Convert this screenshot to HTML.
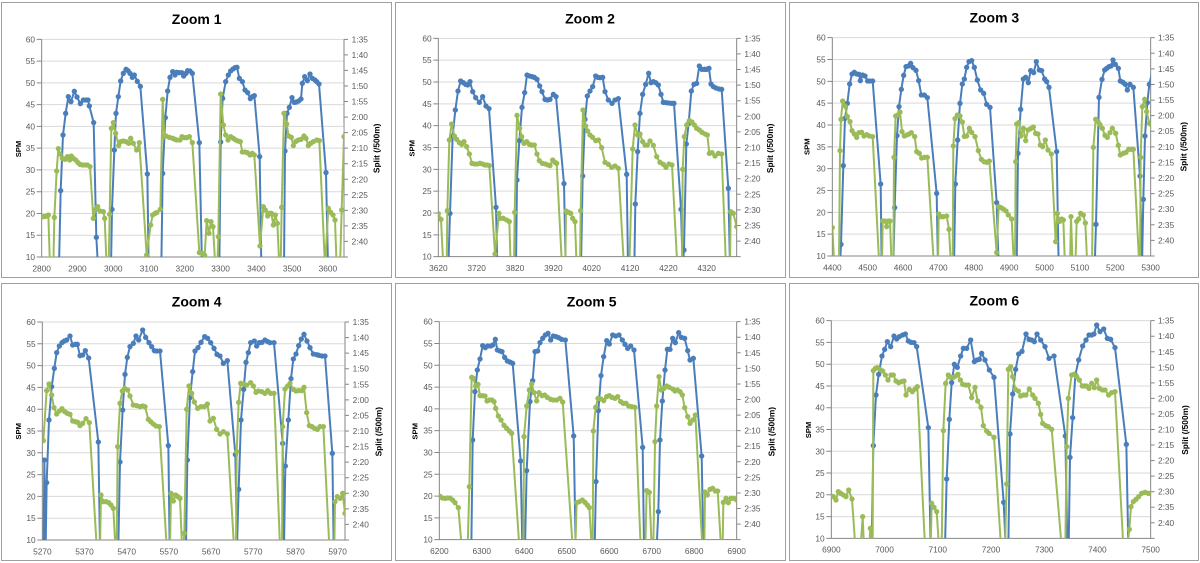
<!DOCTYPE html>
<html><head><meta charset="utf-8"><style>
html,body{margin:0;padding:0;background:#fff;}
svg{display:block;}
.g{stroke:#d9d9d9;stroke-width:3;fill:none}
.ax{stroke:#868686;stroke-width:3;fill:none}
.t{font-family:"Liberation Sans",sans-serif;font-size:25px;fill:#595959}
.l{text-anchor:end}
.c{text-anchor:middle}
.ti{font-family:"Liberation Sans",sans-serif;font-size:42px;font-weight:bold;fill:#000;text-anchor:middle}
.at{font-family:"Liberation Sans",sans-serif;font-size:23px;font-weight:bold;fill:#000;text-anchor:middle}
.as{font-family:"Liberation Sans",sans-serif;font-size:25px;font-weight:bold;fill:#000;text-anchor:middle}
.bl{fill:none;stroke:#4a7ebb;stroke-width:6;stroke-linejoin:round;marker-start:url(#mb);marker-mid:url(#mb);marker-end:url(#mb)}
.gr{fill:none;stroke:#9bbb59;stroke-width:6;stroke-linejoin:round;marker-start:url(#mg);marker-mid:url(#mg);marker-end:url(#mg)}
.bd{fill:#fff;stroke:#a0a0a0;stroke-width:1}
</style></head><body>
<svg width="1200" height="563" viewBox="0 0 1200 563" xmlns="http://www.w3.org/2000/svg">
<defs>
<marker id="mb" markerUnits="userSpaceOnUse" markerWidth="20" markerHeight="20" refX="10" refY="10" viewBox="0 0 20 20"><circle cx="10" cy="10" r="8" fill="#4a7ebb"/></marker>
<marker id="mg" markerUnits="userSpaceOnUse" markerWidth="20" markerHeight="20" refX="10" refY="10" viewBox="0 0 20 20"><circle cx="10" cy="10" r="8" fill="#9bbb59"/></marker>
<clipPath id="c1"><rect x="125" y="90" width="907" height="681"/></clipPath>
<clipPath id="c2"><rect x="145" y="90" width="895" height="680"/></clipPath>
<clipPath id="c3"><rect x="127" y="90" width="955" height="678"/></clipPath>
<clipPath id="c4"><rect x="127" y="100" width="908" height="680"/></clipPath>
<clipPath id="c5"><rect x="148" y="100" width="892" height="679"/></clipPath>
<clipPath id="c6"><rect x="124" y="100" width="958" height="675"/></clipPath>
</defs>
<rect x="0" y="0" width="1200" height="563" fill="#fff"/>
<rect class="bd" x="1.5" y="2.5" width="390" height="275"/>
<rect class="bd" x="395.5" y="2.5" width="390" height="275"/>
<rect class="bd" x="789.5" y="2.5" width="409" height="275"/>
<rect class="bd" x="1.5" y="283.5" width="390" height="277"/>
<rect class="bd" x="395.5" y="283.5" width="390" height="277"/>
<rect class="bd" x="789.5" y="283.5" width="409" height="277"/>

<!-- PANEL 1 -->
<g transform="translate(0,0) scale(0.333333)">
<path class="g" d="M125 118H1032M125 183.3H1032M125 248.6H1032M125 313.9H1032M125 379.2H1032M125 444.5H1032M125 509.8H1032M125 575.1H1032M125 640.4H1032M125 705.7H1032"/>
<path class="ax" d="M125 118V771H1032V118M110 118h15M110 183.3h15M110 248.6h15M110 313.9h15M110 379.2h15M110 444.5h15M110 509.8h15M110 575.1h15M110 640.4h15M110 705.7h15M110 771h15M1032 118h12M1032 164.6h12M1032 211.3h12M1032 257.9h12M1032 304.6h12M1032 351.2h12M1032 397.9h12M1032 444.5h12M1032 491.1h12M1032 537.8h12M1032 584.4h12M1032 631.1h12M1032 677.7h12M1032 724.3h12M1032 771h12"/>
<text class="ti" x="590" y="72">Zoom 1</text>
<text class="at" transform="translate(63,447) rotate(-90)">SPM</text>
<text class="as" transform="translate(1139,445) rotate(-90)">Split (/500m)</text>
<text class="t l"><tspan x="105" y="127">60</tspan><tspan x="105" y="192.3">55</tspan><tspan x="105" y="257.6">50</tspan><tspan x="105" y="322.9">45</tspan><tspan x="105" y="388.2">40</tspan><tspan x="105" y="453.5">35</tspan><tspan x="105" y="518.8">30</tspan><tspan x="105" y="584.1">25</tspan><tspan x="105" y="649.4">20</tspan><tspan x="105" y="714.7">15</tspan><tspan x="105" y="780">10</tspan></text>
<text class="t"><tspan x="1055" y="127">1:35</tspan><tspan x="1055" y="173.6">1:40</tspan><tspan x="1055" y="220.3">1:45</tspan><tspan x="1055" y="266.9">1:50</tspan><tspan x="1055" y="313.6">1:55</tspan><tspan x="1055" y="360.2">2:00</tspan><tspan x="1055" y="406.9">2:05</tspan><tspan x="1055" y="453.5">2:10</tspan><tspan x="1055" y="500.1">2:15</tspan><tspan x="1055" y="546.8">2:20</tspan><tspan x="1055" y="593.4">2:25</tspan><tspan x="1055" y="640.1">2:30</tspan><tspan x="1055" y="686.7">2:35</tspan><tspan x="1055" y="733.3">2:40</tspan></text>
<text class="t c"><tspan x="125" y="814">2800</tspan><tspan x="232.3" y="814">2900</tspan><tspan x="339.7" y="814">3000</tspan><tspan x="447" y="814">3100</tspan><tspan x="554.4" y="814">3200</tspan><tspan x="661.7" y="814">3300</tspan><tspan x="769" y="814">3400</tspan><tspan x="876.4" y="814">3500</tspan><tspan x="983.7" y="814">3600</tspan></text>
<g clip-path="url(#c1)">
<polyline class="bl" points="177,800 182,572 189,405 197,340 205,290 213,305 223,274 231,291 241,311 250,300 258,300 264,300 268,318 281,368 289,712 294,800 333,800 336,628 343,450 348,340 355,290 362,243 370,220 378,208 384,212 390,220 397,232 403,225 412,244 421,259 442,522 446,800 484,800 488,520 496,353 503,273 510,232 518,215 525,225 530,217 537,218 545,218 551,228 558,220 563,212 570,213 577,220 598,428 606,800 658,800 662,426 668,295 677,245 685,225 692,213 699,207 705,203 711,202 718,235 727,245 735,270 743,278 751,296 757,290 763,287 779,470 784,800 852,800 855,453 861,340 868,322 876,293 883,307 889,306 896,303 903,297 907,250 914,230 922,242 930,222 937,235 945,240 950,245 957,252 978,518 984,800"/>
<polyline class="gr" points="130,650 137,649 145,645 150,800 160,800 163,652 170,513 175,446 180,462 187,475 195,478 202,470 209,480 214,468 220,475 227,480 234,488 240,493 247,495 255,495 262,495 270,500 280,655 287,628 293,620 300,633 310,635 314,655 320,800 326,800 329,643 334,385 340,368 347,400 356,437 362,425 370,423 378,425 386,430 392,415 400,430 410,450 418,428 440,765 452,675 458,645 465,640 470,638 481,628 488,298 493,410 498,408 508,412 518,415 525,418 530,420 540,420 546,410 553,413 560,413 568,410 577,428 598,758 606,760 614,766 620,662 627,700 633,665 639,680 646,800 652,800 655,710 662,282 670,375 677,405 684,420 692,410 700,415 707,420 714,423 721,425 727,456 735,456 742,458 750,465 757,460 763,465 780,738 790,620 796,630 803,648 808,640 814,640 820,675 826,645 832,670 838,800 842,800 845,622 852,340 860,372 866,408 874,412 880,437 888,424 895,420 903,418 912,408 918,415 925,437 932,430 940,425 950,420 958,422 975,800 985,625 992,637 999,645 1005,660 1010,800 1020,800 1025,630 1032,410 1040,300"/>
</g>
</g>

<!-- PANEL 2 -->
<g transform="translate(390,0) scale(0.333333)">
<path class="g" d="M145 115H1040M145 180.5H1040M145 246H1040M145 311.5H1040M145 377H1040M145 442.5H1040M145 508H1040M145 573.5H1040M145 639H1040M145 704.5H1040"/>
<path class="ax" d="M145 115V770H1040V115M130 115h15M130 180.5h15M130 246h15M130 311.5h15M130 377h15M130 442.5h15M130 508h15M130 573.5h15M130 639h15M130 704.5h15M130 770h15M1040 115h12M1040 161.8h12M1040 208.6h12M1040 255.4h12M1040 302.2h12M1040 348.9h12M1040 395.7h12M1040 442.5h12M1040 489.3h12M1040 536.1h12M1040 582.9h12M1040 629.7h12M1040 676.4h12M1040 723.2h12M1040 770h12"/>
<text class="ti" x="600" y="70">Zoom 2</text>
<text class="at" transform="translate(73,445) rotate(-90)">SPM</text>
<text class="as" transform="translate(1149,445) rotate(-90)">Split (/500m)</text>
<text class="t l"><tspan x="125" y="124">60</tspan><tspan x="125" y="189.5">55</tspan><tspan x="125" y="255">50</tspan><tspan x="125" y="320.5">45</tspan><tspan x="125" y="386">40</tspan><tspan x="125" y="451.5">35</tspan><tspan x="125" y="517">30</tspan><tspan x="125" y="582.5">25</tspan><tspan x="125" y="648">20</tspan><tspan x="125" y="713.5">15</tspan><tspan x="125" y="779">10</tspan></text>
<text class="t"><tspan x="1063" y="124">1:35</tspan><tspan x="1063" y="170.8">1:40</tspan><tspan x="1063" y="217.6">1:45</tspan><tspan x="1063" y="264.4">1:50</tspan><tspan x="1063" y="311.2">1:55</tspan><tspan x="1063" y="357.9">2:00</tspan><tspan x="1063" y="404.7">2:05</tspan><tspan x="1063" y="451.5">2:10</tspan><tspan x="1063" y="498.3">2:15</tspan><tspan x="1063" y="545.1">2:20</tspan><tspan x="1063" y="591.9">2:25</tspan><tspan x="1063" y="638.7">2:30</tspan><tspan x="1063" y="685.4">2:35</tspan><tspan x="1063" y="732.2">2:40</tspan></text>
<text class="t c"><tspan x="145" y="813">3620</tspan><tspan x="260" y="813">3720</tspan><tspan x="375" y="813">3820</tspan><tspan x="490" y="813">3920</tspan><tspan x="605" y="813">4020</tspan><tspan x="720" y="813">4120</tspan><tspan x="835" y="813">4220</tspan><tspan x="950" y="813">4320</tspan></text>
<g clip-path="url(#c2)">
<polyline class="bl" points="175,800 180,640 188,408 196,330 204,273 212,243 220,248 227,253 233,255 240,245 248,275 257,293 268,307 278,290 288,318 297,326 318,622 322,800 378,800 381,540 388,422 396,322 404,278 411,225 419,228 426,230 433,232 441,238 449,258 456,275 465,298 472,300 480,298 490,283 498,290 522,551 527,800 573,800 578,528 585,358 592,288 600,273 608,260 617,228 624,232 630,233 638,232 645,275 655,300 666,310 675,300 685,296 710,523 714,800 733,800 736,612 743,455 750,340 758,283 767,253 776,220 783,248 790,245 797,248 805,255 813,283 820,307 828,308 836,309 845,310 852,310 873,628 878,800 882,750 889,432 896,370 904,273 912,253 920,250 928,198 936,208 944,208 950,208 957,205 963,252 970,260 978,264 987,267 995,268 1015,565 1020,800"/>
<polyline class="gr" points="145,641 153,658 160,800 170,800 172,632 178,420 185,372 193,408 200,418 208,428 215,433 222,425 230,440 238,462 246,490 254,492 262,492 270,490 278,492 285,495 292,495 298,497 315,762 327,640 330,655 340,655 350,660 358,665 362,800 372,800 374,637 381,346 389,385 395,410 402,430 410,425 418,433 425,435 433,435 441,462 448,482 457,490 466,492 474,495 480,497 488,480 495,487 500,490 516,800 526,800 528,633 535,637 542,640 548,655 555,665 560,800 570,800 572,632 579,330 587,378 593,393 600,405 608,412 617,422 625,420 635,443 645,487 655,493 665,502 675,498 685,505 702,800 718,800 728,447 735,375 743,405 750,402 758,425 765,435 772,435 780,423 790,436 800,470 810,487 820,493 828,502 837,492 846,495 862,800 876,800 878,508 883,410 890,375 898,362 906,366 913,375 920,385 928,390 936,397 945,402 952,405 958,460 966,458 975,468 985,460 995,462 1008,800 1020,800 1022,635 1030,640 1040,680"/>
</g>
</g>

<!-- PANEL 3 -->
<g transform="translate(790,0) scale(0.333333)">
<path class="g" d="M127 113H1082M127 178.5H1082M127 244H1082M127 309.5H1082M127 375H1082M127 440.5H1082M127 506H1082M127 571.5H1082M127 637H1082M127 702.5H1082"/>
<path class="ax" d="M127 113V768H1082V113M112 113h15M112 178.5h15M112 244h15M112 309.5h15M112 375h15M112 440.5h15M112 506h15M112 571.5h15M112 637h15M112 702.5h15M112 768h15M1082 113h12M1082 159.8h12M1082 206.6h12M1082 253.4h12M1082 300.2h12M1082 346.9h12M1082 393.7h12M1082 440.5h12M1082 487.3h12M1082 534.1h12M1082 580.9h12M1082 627.7h12M1082 674.4h12M1082 721.2h12M1082 768h12"/>
<text class="ti" x="613" y="67">Zoom 3</text>
<text class="at" transform="translate(58,440) rotate(-90)">SPM</text>
<text class="as" transform="translate(1189,440) rotate(-90)">Split (/500m)</text>
<text class="t l"><tspan x="107" y="122">60</tspan><tspan x="107" y="187.5">55</tspan><tspan x="107" y="253">50</tspan><tspan x="107" y="318.5">45</tspan><tspan x="107" y="384">40</tspan><tspan x="107" y="449.5">35</tspan><tspan x="107" y="515">30</tspan><tspan x="107" y="580.5">25</tspan><tspan x="107" y="646">20</tspan><tspan x="107" y="711.5">15</tspan><tspan x="107" y="777">10</tspan></text>
<text class="t"><tspan x="1104" y="122">1:35</tspan><tspan x="1104" y="168.8">1:40</tspan><tspan x="1104" y="215.6">1:45</tspan><tspan x="1104" y="262.4">1:50</tspan><tspan x="1104" y="309.2">1:55</tspan><tspan x="1104" y="355.9">2:00</tspan><tspan x="1104" y="402.7">2:05</tspan><tspan x="1104" y="449.5">2:10</tspan><tspan x="1104" y="496.3">2:15</tspan><tspan x="1104" y="543.1">2:20</tspan><tspan x="1104" y="589.9">2:25</tspan><tspan x="1104" y="636.7">2:30</tspan><tspan x="1104" y="683.4">2:35</tspan><tspan x="1104" y="730.2">2:40</tspan></text>
<text class="t c"><tspan x="127" y="811">4400</tspan><tspan x="233.1" y="811">4500</tspan><tspan x="339.2" y="811">4600</tspan><tspan x="445.3" y="811">4700</tspan><tspan x="551.4" y="811">4800</tspan><tspan x="657.6" y="811">4900</tspan><tspan x="763.7" y="811">5000</tspan><tspan x="869.8" y="811">5100</tspan><tspan x="975.9" y="811">5200</tspan><tspan x="1082" y="811">5300</tspan></text>
<g clip-path="url(#c3)">
<polyline class="bl" points="150,800 153,733 160,497 165,355 172,310 179,252 186,222 193,217 200,222 207,223 211,242 218,225 225,228 233,243 240,243 248,243 272,552 275,800 310,800 314,623 321,407 327,320 334,268 341,226 348,200 355,198 362,190 369,203 378,211 386,242 394,285 403,285 412,293 440,580 444,800 492,800 496,552 503,420 510,310 517,252 523,237 530,202 537,185 545,182 553,202 562,240 572,270 581,280 590,313 600,322 620,608 626,800 680,800 684,460 692,328 700,237 707,232 715,248 722,212 731,218 739,185 748,210 755,212 764,237 770,245 777,262 800,455 806,800 914,800 918,673 927,292 936,238 944,210 950,205 957,200 963,198 969,180 976,193 985,205 991,243 999,247 1006,253 1012,270 1020,253 1030,262 1050,528 1056,800 1060,598 1065,408 1072,308 1078,253 1090,200"/>
<polyline class="gr" points="127,683 133,800 147,800 150,452 153,358 158,303 165,318 172,350 180,365 186,392 193,402 200,412 207,398 215,397 222,408 230,404 238,408 248,410 268,800 276,800 278,663 285,663 290,680 295,663 300,663 305,800 310,800 312,472 317,348 323,345 330,336 336,395 343,408 350,405 357,402 364,398 374,410 380,455 388,460 395,474 403,472 412,472 432,800 444,800 446,642 453,650 460,650 470,648 477,688 483,800 488,800 490,438 495,356 502,345 510,348 517,366 523,409 530,408 538,385 545,397 555,410 565,452 574,478 582,485 590,487 598,483 620,758 626,620 633,623 640,627 648,633 655,645 665,657 672,800 675,800 677,485 680,372 686,368 693,408 700,385 707,422 714,390 722,386 730,381 737,400 744,402 751,435 758,440 766,420 774,450 784,462 797,725 802,640 809,664 815,657 820,660 825,800 840,800 843,650 848,800 856,800 860,664 866,657 872,640 880,645 886,669 892,800 906,800 910,442 917,358 924,365 930,374 937,385 945,406 952,412 960,398 967,385 977,400 985,436 991,465 1000,460 1008,457 1016,448 1024,448 1030,448 1048,800 1050,800 1052,472 1057,320 1064,298 1070,335 1078,370 1090,400"/>
</g>
</g>

<!-- PANEL 4 -->
<g transform="translate(0,280) scale(0.333333)">
<path class="g" d="M127 126H1035M127 191.4H1035M127 256.8H1035M127 322.2H1035M127 387.6H1035M127 453H1035M127 518.4H1035M127 583.8H1035M127 649.2H1035M127 714.6H1035"/>
<path class="ax" d="M127 126V780H1035V126M112 126h15M112 191.4h15M112 256.8h15M112 322.2h15M112 387.6h15M112 453h15M112 518.4h15M112 583.8h15M112 649.2h15M112 714.6h15M112 780h15M1035 126h12M1035 172.7h12M1035 219.4h12M1035 266.1h12M1035 312.9h12M1035 359.6h12M1035 406.3h12M1035 453h12M1035 499.7h12M1035 546.4h12M1035 593.1h12M1035 639.9h12M1035 686.6h12M1035 733.3h12M1035 780h12"/>
<text class="ti" x="590" y="80">Zoom 4</text>
<text class="at" transform="translate(63,454) rotate(-90)">SPM</text>
<text class="as" transform="translate(1144,455) rotate(-90)">Split (/500m)</text>
<text class="t l"><tspan x="107" y="135">60</tspan><tspan x="107" y="200.4">55</tspan><tspan x="107" y="265.8">50</tspan><tspan x="107" y="331.2">45</tspan><tspan x="107" y="396.6">40</tspan><tspan x="107" y="462">35</tspan><tspan x="107" y="527.4">30</tspan><tspan x="107" y="592.8">25</tspan><tspan x="107" y="658.2">20</tspan><tspan x="107" y="723.6">15</tspan><tspan x="107" y="789">10</tspan></text>
<text class="t"><tspan x="1058" y="135">1:35</tspan><tspan x="1058" y="181.7">1:40</tspan><tspan x="1058" y="228.4">1:45</tspan><tspan x="1058" y="275.1">1:50</tspan><tspan x="1058" y="321.9">1:55</tspan><tspan x="1058" y="368.6">2:00</tspan><tspan x="1058" y="415.3">2:05</tspan><tspan x="1058" y="462">2:10</tspan><tspan x="1058" y="508.7">2:15</tspan><tspan x="1058" y="555.4">2:20</tspan><tspan x="1058" y="602.1">2:25</tspan><tspan x="1058" y="648.9">2:30</tspan><tspan x="1058" y="695.6">2:35</tspan><tspan x="1058" y="742.3">2:40</tspan></text>
<text class="t c"><tspan x="127" y="823">5270</tspan><tspan x="253.6" y="823">5370</tspan><tspan x="380.1" y="823">5470</tspan><tspan x="506.7" y="823">5570</tspan><tspan x="633.3" y="823">5670</tspan><tspan x="759.9" y="823">5770</tspan><tspan x="886.4" y="823">5870</tspan><tspan x="1013" y="823">5970</tspan></text>
<g clip-path="url(#c4)">
<polyline class="bl" points="131,800 133,540 137,800 140,608 147,420 155,320 163,265 170,218 178,198 186,188 193,183 200,180 210,168 218,195 226,193 232,193 240,227 248,225 256,212 266,234 295,486 300,800 355,800 360,546 368,390 375,283 382,232 390,200 400,190 408,168 416,180 428,150 437,172 447,188 455,200 463,212 470,213 480,213 505,497 509,800 558,800 562,540 570,353 578,275 585,213 594,203 603,187 614,170 623,175 632,188 642,205 651,223 660,228 670,250 682,242 706,524 711,800 716,628 723,420 731,328 738,247 745,218 752,188 763,183 770,198 778,188 786,187 795,180 803,185 810,188 822,188 848,490 852,800 856,558 865,420 873,296 880,237 888,222 896,197 904,177 912,163 921,183 930,203 940,222 950,224 957,226 966,228 975,228 997,520 1001,800"/>
<polyline class="gr" points="130,482 140,332 147,312 155,345 162,383 170,402 178,393 186,386 194,395 202,400 210,403 218,423 226,425 233,427 240,437 248,430 258,416 268,428 290,800 300,800 303,645 310,665 318,665 326,668 333,675 340,685 346,800 350,800 353,500 360,370 367,333 374,325 383,330 390,348 400,375 410,377 420,380 428,378 435,380 445,418 452,425 460,432 468,438 478,440 500,800 510,800 513,640 520,663 527,645 534,650 540,655 546,800 550,800 553,760 560,388 567,318 575,340 583,366 593,385 603,380 613,380 622,372 630,423 640,415 650,448 660,462 670,455 682,462 702,800 708,800 710,515 716,367 722,310 730,312 740,315 752,308 760,318 768,337 775,333 785,335 795,340 803,332 812,340 822,340 840,800 846,800 848,440 855,327 863,318 870,310 880,328 888,333 896,332 905,332 912,322 920,398 928,437 936,440 944,445 952,448 960,440 970,440 988,800 1003,800 1005,665 1012,650 1020,655 1028,640 1035,700"/>
</g>
</g>

<!-- PANEL 5 -->
<g transform="translate(390,280) scale(0.333333)">
<path class="g" d="M148 125H1040M148 190.4H1040M148 255.8H1040M148 321.2H1040M148 386.6H1040M148 452H1040M148 517.4H1040M148 582.8H1040M148 648.2H1040M148 713.6H1040"/>
<path class="ax" d="M148 125V779H1040V125M133 125h15M133 190.4h15M133 255.8h15M133 321.2h15M133 386.6h15M133 452h15M133 517.4h15M133 582.8h15M133 648.2h15M133 713.6h15M133 779h15M1040 125h12M1040 171.7h12M1040 218.4h12M1040 265.1h12M1040 311.9h12M1040 358.6h12M1040 405.3h12M1040 452h12M1040 498.7h12M1040 545.4h12M1040 592.1h12M1040 638.9h12M1040 685.6h12M1040 732.3h12M1040 779h12"/>
<text class="ti" x="605" y="80">Zoom 5</text>
<text class="at" transform="translate(83,454) rotate(-90)">SPM</text>
<text class="as" transform="translate(1154,455) rotate(-90)">Split (/500m)</text>
<text class="t l"><tspan x="128" y="134">60</tspan><tspan x="128" y="199.4">55</tspan><tspan x="128" y="264.8">50</tspan><tspan x="128" y="330.2">45</tspan><tspan x="128" y="395.6">40</tspan><tspan x="128" y="461">35</tspan><tspan x="128" y="526.4">30</tspan><tspan x="128" y="591.8">25</tspan><tspan x="128" y="657.2">20</tspan><tspan x="128" y="722.6">15</tspan><tspan x="128" y="788">10</tspan></text>
<text class="t"><tspan x="1063" y="134">1:35</tspan><tspan x="1063" y="180.7">1:40</tspan><tspan x="1063" y="227.4">1:45</tspan><tspan x="1063" y="274.1">1:50</tspan><tspan x="1063" y="320.9">1:55</tspan><tspan x="1063" y="367.6">2:00</tspan><tspan x="1063" y="414.3">2:05</tspan><tspan x="1063" y="461">2:10</tspan><tspan x="1063" y="507.7">2:15</tspan><tspan x="1063" y="554.4">2:20</tspan><tspan x="1063" y="601.1">2:25</tspan><tspan x="1063" y="647.9">2:30</tspan><tspan x="1063" y="694.6">2:35</tspan><tspan x="1063" y="741.3">2:40</tspan></text>
<text class="t c"><tspan x="148" y="822">6200</tspan><tspan x="275.4" y="822">6300</tspan><tspan x="402.9" y="822">6400</tspan><tspan x="530.3" y="822">6500</tspan><tspan x="657.7" y="822">6600</tspan><tspan x="785.1" y="822">6700</tspan><tspan x="912.6" y="822">6800</tspan><tspan x="1040" y="822">6900</tspan></text>
<g clip-path="url(#c5)">
<polyline class="bl" points="244,800 248,480 255,335 262,270 270,237 278,197 286,203 293,198 302,198 308,195 316,178 322,210 330,213 336,215 344,232 352,243 360,246 368,250 392,543 397,800 405,800 410,572 420,365 428,302 435,215 443,213 450,188 458,175 466,165 474,160 482,180 490,168 498,170 506,173 515,178 526,180 551,468 557,800 614,800 618,605 625,392 633,287 641,230 650,182 658,192 668,165 677,168 687,165 697,180 705,193 713,205 722,198 732,210 758,502 762,800 800,800 805,695 810,480 817,363 825,270 832,208 840,208 848,175 856,188 866,158 874,172 884,175 893,212 900,240 910,235 935,528 940,800"/>
<polyline class="gr" points="150,649 157,654 165,655 172,654 180,654 188,660 195,668 205,683 215,800 233,800 238,620 245,292 250,295 257,318 264,313 270,347 278,347 285,348 291,363 298,360 306,360 312,365 317,385 325,408 333,420 342,436 350,445 358,453 365,460 388,800 400,800 402,470 410,378 418,330 425,312 432,338 440,363 447,338 456,347 464,345 472,352 482,358 490,360 500,360 510,355 518,366 548,800 556,800 560,668 568,665 577,660 585,667 592,675 598,683 605,800 608,800 610,453 617,382 624,355 633,357 641,362 650,350 658,347 666,352 675,355 683,350 692,365 700,370 708,370 716,378 725,380 735,382 752,800 766,800 770,632 778,637 785,800 790,800 795,485 800,378 807,290 814,330 822,325 830,318 838,322 848,327 855,333 862,330 870,335 877,345 884,383 893,410 900,430 908,420 916,405 937,800 943,800 945,636 952,645 960,628 968,625 976,633 983,633 993,800 998,800 1000,667 1008,655 1015,668 1023,655 1032,655 1040,660"/>
</g>
</g>

<!-- PANEL 6 -->
<g transform="translate(790,280) scale(0.333333)">
<path class="g" d="M124 122H1082M124 187.3H1082M124 252.6H1082M124 317.9H1082M124 383.2H1082M124 448.5H1082M124 513.8H1082M124 579.1H1082M124 644.4H1082M124 709.7H1082"/>
<path class="ax" d="M124 122V775H1082V122M109 122h15M109 187.3h15M109 252.6h15M109 317.9h15M109 383.2h15M109 448.5h15M109 513.8h15M109 579.1h15M109 644.4h15M109 709.7h15M109 775h15M1082 122h12M1082 168.6h12M1082 215.3h12M1082 261.9h12M1082 308.6h12M1082 355.2h12M1082 401.9h12M1082 448.5h12M1082 495.1h12M1082 541.8h12M1082 588.4h12M1082 635.1h12M1082 681.7h12M1082 728.3h12M1082 775h12"/>
<text class="ti" x="613" y="77">Zoom 6</text>
<text class="at" transform="translate(63,450) rotate(-90)">SPM</text>
<text class="as" transform="translate(1194,450) rotate(-90)">Split (/500m)</text>
<text class="t l"><tspan x="104" y="131">60</tspan><tspan x="104" y="196.3">55</tspan><tspan x="104" y="261.6">50</tspan><tspan x="104" y="326.9">45</tspan><tspan x="104" y="392.2">40</tspan><tspan x="104" y="457.5">35</tspan><tspan x="104" y="522.8">30</tspan><tspan x="104" y="588.1">25</tspan><tspan x="104" y="653.4">20</tspan><tspan x="104" y="718.7">15</tspan><tspan x="104" y="784">10</tspan></text>
<text class="t"><tspan x="1104" y="131">1:35</tspan><tspan x="1104" y="177.6">1:40</tspan><tspan x="1104" y="224.3">1:45</tspan><tspan x="1104" y="270.9">1:50</tspan><tspan x="1104" y="317.6">1:55</tspan><tspan x="1104" y="364.2">2:00</tspan><tspan x="1104" y="410.9">2:05</tspan><tspan x="1104" y="457.5">2:10</tspan><tspan x="1104" y="504.1">2:15</tspan><tspan x="1104" y="550.8">2:20</tspan><tspan x="1104" y="597.4">2:25</tspan><tspan x="1104" y="644.1">2:30</tspan><tspan x="1104" y="690.7">2:35</tspan><tspan x="1104" y="737.3">2:40</tspan></text>
<text class="t c"><tspan x="124" y="818">6900</tspan><tspan x="283.7" y="818">7000</tspan><tspan x="443.3" y="818">7100</tspan><tspan x="603" y="818">7200</tspan><tspan x="762.7" y="818">7300</tspan><tspan x="922.3" y="818">7400</tspan><tspan x="1082" y="818">7500</tspan></text>
<g clip-path="url(#c6)">
<polyline class="bl" points="245,800 250,497 258,345 266,283 276,228 284,208 292,185 302,200 312,168 320,177 328,170 338,165 346,162 355,183 363,187 372,188 380,200 415,443 422,800 465,800 470,597 478,418 485,308 493,253 502,262 512,228 520,205 530,205 542,180 553,245 561,240 568,238 575,220 585,240 598,270 612,292 641,667 647,800 655,800 660,462 668,342 677,268 686,222 696,214 708,162 717,178 725,180 733,185 741,162 752,180 765,200 777,235 792,228 826,468 832,800 836,800 840,532 848,413 856,285 866,240 878,198 888,180 897,165 905,165 912,162 920,135 930,155 941,147 952,175 962,178 975,203 1009,493 1015,800"/>
<polyline class="gr" points="124,648 130,650 138,660 145,635 152,640 160,645 168,650 176,630 186,657 196,800 212,800 218,710 222,800 238,800 241,745 245,800 248,800 250,272 256,265 262,263 270,268 278,273 286,285 294,300 303,285 310,285 318,303 326,308 334,305 342,303 348,345 358,328 367,335 375,327 382,320 405,800 422,800 425,670 432,682 440,695 447,800 455,800 460,452 467,310 475,285 482,292 490,292 497,288 504,283 511,300 518,313 527,315 535,315 545,353 555,322 563,363 573,382 580,437 590,453 597,460 612,472 633,800 645,800 650,612 655,268 662,260 668,290 676,328 685,333 692,348 700,345 708,345 718,327 728,345 735,355 745,370 752,403 758,430 767,437 775,440 785,448 815,800 826,800 830,500 835,355 845,285 852,283 860,290 868,300 877,318 884,318 890,318 897,325 905,310 913,323 920,300 928,325 937,330 945,330 956,345 965,338 975,335 1000,800 1012,800 1018,748 1023,680 1030,665 1038,658 1046,650 1055,640 1065,637 1075,640 1082,640"/>
</g>
</g>
</svg>
</body></html>
